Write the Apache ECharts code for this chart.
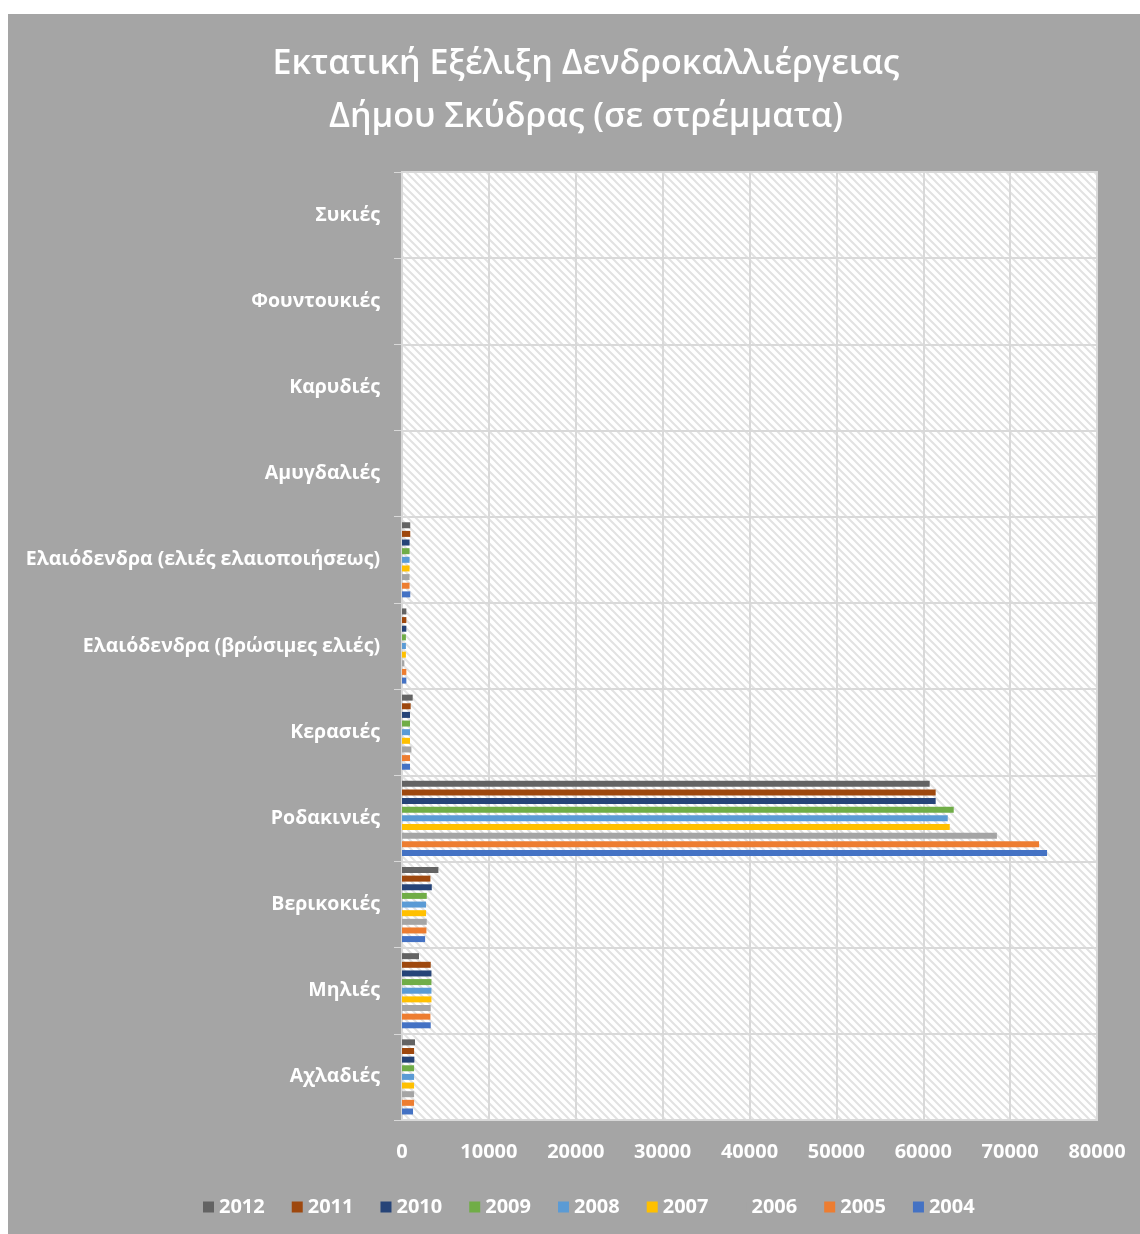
<!DOCTYPE html>
<html>
<head>
<meta charset="utf-8">
<script src="https://cdn.jsdelivr.net/npm/echarts@6/dist/echarts.min.js"></script>
<style>
html,body{margin:0;padding:0;background:#ffffff;}
#chart{position:absolute;left:8px;top:14px;width:1132px;height:1220px;}
</style>
</head>
<body>
<div id="chart"></div>
<script>
var categories = ['Αχλαδιές','Μηλιές','Βερικοκιές','Ροδακινιές','Κερασιές','Ελαιόδενδρα (βρώσιμες ελιές)','Ελαιόδενδρα (ελιές ελαιοποιήσεως)','Αμυγδαλιές','Καρυδιές','Φουντουκιές','Συκιές'];
var years = ['2012','2011','2010','2009','2008','2007','2006','2005','2004'];
var v2012 = [1500, 1960, 4190, 60740, 1230, 500, 950, 0, 0, 0, 0];
var v2011 = [1390, 3310, 3270, 61430, 1000, 500, 950, 0, 0, 0, 0];
var v2010 = [1420, 3390, 3430, 61430, 920, 500, 870, 0, 0, 0, 0];
var v2009 = [1390, 3390, 2850, 63510, 920, 450, 870, 0, 0, 0, 0];
var v2008 = [1390, 3390, 2770, 62820, 920, 450, 870, 0, 0, 0, 0];
var v2007 = [1390, 3390, 2770, 63050, 920, 450, 870, 0, 0, 0, 0];
var v2006 = [1390, 3310, 2850, 68480, 1080, 270, 870, 0, 0, 0, 0];
var v2005 = [1390, 3270, 2810, 73330, 920, 500, 870, 0, 0, 0, 0];
var v2004 = [1270, 3310, 2660, 74250, 920, 500, 950, 0, 0, 0, 0];
var xTicks = [0, 10000, 20000, 30000, 40000, 50000, 60000, 70000, 80000];
var colors = ['#636363','#9e480e','#264478','#70ad47','#5b9bd5','#ffc000','#a5a5a5','#ed7d31','#4472c4'];
var seriesValues = [v2012, v2011, v2010, v2009, v2008, v2007, v2006, v2005, v2004];

// hatch pattern for plot background
var pc = document.createElement('canvas');
pc.width = 8; pc.height = 8;
var g = pc.getContext('2d');
g.fillStyle = '#ffffff';
g.fillRect(0,0,8,8);
g.strokeStyle = '#e2e2e2';
g.lineWidth = 2;
g.beginPath();
g.moveTo(-2,-2); g.lineTo(10,10);
g.moveTo(-2,6); g.lineTo(2,10);
g.moveTo(6,-2); g.lineTo(10,2);
g.stroke();

var FONT = 'Open Sans';
var chart = echarts.init(document.getElementById('chart'));
var series = years.map(function(y, i){
  return {
    name: y,
    type: 'bar',
    data: seriesValues[i],
    barWidth: 6,
    barGap: '44%',
    itemStyle: {color: colors[i]}
  };
});
chart.setOption({
  backgroundColor: '#a5a5a5',
  animation: false,
  color: colors,
  title: {
    text: 'Εκτατική Εξέλιξη Δενδροκαλλιέργειας\nΔήμου Σκύδρας (σε στρέμματα)',
    left: 573,
    top: 19,
    textAlign: 'center',
    textStyle: {color:'#ffffff', fontFamily: FONT, fontSize: 34, fontWeight: 600, lineHeight: 53}
  },
  legend: {
    data: years,
    left: 190,
    top: 1178,
    icon: 'rect',
    itemWidth: 11,
    itemHeight: 11,
    itemGap: 27,
    textStyle: {color:'#ffffff', fontFamily: FONT, fontSize: 20, fontWeight: 'bold'}
  },
  grid: {
    left: 394, right: 43, top: 158, bottom: 114,
    show: true,
    backgroundColor: {image: pc, repeat: 'repeat'},
    borderColor: '#d9d9d9',
    borderWidth: 2
  },
  xAxis: {
    type: 'value',
    min: 0, max: 80000, interval: 10000,
    axisLine: {show: false},
    axisTick: {show: false},
    splitLine: {show: true, lineStyle: {color:'#d9d9d9', width: 2}},
    axisLabel: {color:'#ffffff', fontFamily: FONT, fontSize: 20, fontWeight: 'bold', margin: 22,
      formatter: function(v){ return xTicks.indexOf(v) >= 0 ? String(v) : ''; }}
  },
  yAxis: {
    type: 'category',
    data: categories,
    axisLine: {show: true, lineStyle: {color:'#d9d9d9', width: 1}},
    axisTick: {show: true, length: 8, lineStyle: {color:'#d9d9d9'}},
    splitLine: {show: true, lineStyle: {color:'#d9d9d9', width: 2}},
    axisLabel: {color:'#ffffff', fontFamily: FONT, fontSize: 19.5, fontWeight: 'bold', margin: 22}
  },
  series: series
});
</script>
</body>
</html>
